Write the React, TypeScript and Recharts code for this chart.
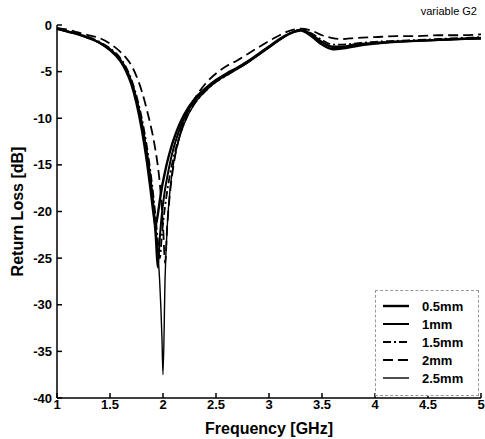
import React from 'react';
import { LineChart, Line, XAxis, YAxis } from 'recharts';

const freq = [1.0, 1.1, 1.2, 1.3, 1.4, 1.5, 1.6, 1.65, 1.7, 1.75, 1.8, 1.85, 1.88, 1.91, 1.93, 1.95, 1.97, 1.99, 2.0, 2.02, 2.04, 2.07, 2.1, 2.15, 2.2, 2.3, 2.4, 2.5, 2.6, 2.7, 2.8, 2.9, 3.0, 3.1, 3.2, 3.3, 3.4, 3.5, 3.6, 3.7, 3.8, 4.0, 4.2, 4.4, 4.6, 4.8, 5.0];

const g05 = [-0.4, -0.7, -1.0, -1.4, -1.9, -2.7, -3.9, -4.9, -6.3, -8.4, -11.2, -14.8, -17.4, -20.2, -21.5, -20.4, -18.8, -17.4, -16.8, -15.7, -14.7, -13.4, -12.3, -10.8, -9.6, -7.9, -6.8, -5.9, -5.2, -4.6, -3.9, -3.1, -2.3, -1.5, -0.9, -0.6, -1.2, -2.1, -2.6, -2.5, -2.3, -2.0, -1.8, -1.7, -1.6, -1.5, -1.4];
const g10 = [-0.4, -0.7, -1.0, -1.4, -1.9, -2.6, -3.8, -4.8, -6.1, -8.0, -10.6, -14.0, -16.6, -19.8, -22.6, -26.0, -22.8, -20.2, -19.2, -17.6, -16.3, -14.6, -13.2, -11.4, -10.0, -8.1, -6.9, -6.0, -5.3, -4.7, -4.0, -3.2, -2.4, -1.6, -0.9, -0.5, -1.0, -1.8, -2.3, -2.3, -2.1, -1.9, -1.8, -1.7, -1.6, -1.5, -1.4];
const g15 = [-0.4, -0.7, -0.95, -1.3, -1.8, -2.5, -3.6, -4.5, -5.8, -7.6, -10.0, -13.2, -15.6, -18.4, -20.6, -23.0, -25.0, -22.4, -21.3, -19.4, -17.8, -15.8, -14.2, -12.1, -10.5, -8.4, -7.1, -6.1, -5.4, -4.7, -4.0, -3.2, -2.4, -1.6, -0.9, -0.5, -0.9, -1.6, -2.1, -2.1, -2.0, -1.8, -1.7, -1.6, -1.5, -1.4, -1.3];
const g20 = [-0.3, -0.5, -0.8, -1.1, -1.4, -2.0, -2.9, -3.5, -4.3, -5.5, -7.1, -9.2, -10.6, -12.2, -13.5, -15.0, -17.0, -19.8, -21.5, -25.5, -21.5, -17.6, -15.0, -12.2, -10.3, -7.9, -6.3, -5.2, -4.4, -3.8, -3.1, -2.4, -1.7, -1.1, -0.6, -0.4, -0.6, -1.1, -1.4, -1.5, -1.4, -1.3, -1.2, -1.2, -1.1, -1.1, -1.0];
const g25 = [-0.4, -0.7, -1.0, -1.35, -1.85, -2.55, -3.7, -4.6, -5.9, -7.8, -10.3, -13.6, -16.0, -19.0, -21.4, -24.2, -27.8, -33.5, -37.5, -27.0, -21.6, -17.3, -14.8, -12.3, -10.6, -8.4, -7.1, -6.1, -5.4, -4.7, -4.0, -3.2, -2.4, -1.6, -0.9, -0.5, -1.0, -1.9, -2.4, -2.4, -2.2, -2.0, -1.8, -1.7, -1.6, -1.5, -1.5];

const xTicks = [1, 1.5, 2, 2.5, 3, 3.5, 4, 4.5, 5];
const yTicks = [-40, -35, -30, -25, -20, -15, -10, -5, 0];

const series = [
  { key: 'g05', name: '0.5mm', width: 2.4, dash: undefined },
  { key: 'g10', name: '1mm', width: 2, dash: undefined },
  { key: 'g15', name: '1.5mm', width: 1.8, dash: '8 3 2 3' },
  { key: 'g20', name: '2mm', width: 1.8, dash: '10 5' },
  { key: 'g25', name: '2.5mm', width: 1.4, dash: undefined },
];

const data = freq.map((f, i) => ({ f, g05: g05[i], g10: g10[i], g15: g15[i], g20: g20[i], g25: g25[i] }));

const font = '"Liberation Sans", Arial, sans-serif';
const tickStyle = { fill: '#000', fontSize: 13, fontWeight: 700, fontFamily: font };

// legend sits in the lower-right corner of the plot, like the original
function LegendBox() {
  return (
    <div style={{ position: 'absolute', left: 375, top: 290, width: 104, height: 106, border: '1px dashed #999', background: '#fff', boxSizing: 'border-box', paddingTop: 6 }}>
      {series.map((s) => (
        <div key={s.key} style={{ display: 'flex', alignItems: 'center', height: 18 }}>
          <svg width={44} height={10}>
            <line x1={7} x2={33} y1={5} y2={5} stroke="#000" strokeWidth={s.width} strokeDasharray={s.dash} />
          </svg>
          <span style={{ fontFamily: font, fontSize: 13, fontWeight: 700, color: '#000', marginLeft: 2 }}>{s.name}</span>
        </div>
      ))}
    </div>
  );
}

export default function App() {
  return (
    <div style={{ position: 'fixed', left: 0, top: 0, width: 485, height: 439, background: '#fff' }}>
      <LineChart width={485} height={439} data={data} margin={{ top: 25, right: 4, bottom: 0, left: 0 }}>
        <XAxis
          dataKey="f"
          type="number"
          domain={[1, 5]}
          ticks={xTicks}
          height={41}
          tickSize={-5}
          tickMargin={7}
          axisLine={{ stroke: '#000', strokeWidth: 1.5 }}
          tickLine={{ stroke: '#000', strokeWidth: 1.5 }}
          tick={tickStyle}
          label={{ value: 'Frequency [GHz]', position: 'insideBottom', offset: 5, style: { fill: '#000', fontSize: 16, fontWeight: 700, fontFamily: font } }}
        />
        <XAxis
          xAxisId="top"
          orientation="top"
          dataKey="f"
          type="number"
          domain={[1, 5]}
          ticks={xTicks}
          height={0}
          tickSize={-5}
          tick={false}
          axisLine={{ stroke: '#000', strokeWidth: 1.5 }}
          tickLine={{ stroke: '#000', strokeWidth: 1.5 }}
        />
        <YAxis
          type="number"
          domain={[-40, 0]}
          ticks={yTicks}
          width={57}
          tickSize={-5}
          tickMargin={10}
          axisLine={{ stroke: '#000', strokeWidth: 1.5 }}
          tickLine={{ stroke: '#000', strokeWidth: 1.5 }}
          tick={tickStyle}
          label={{ value: 'Return Loss [dB]', angle: -90, position: 'insideLeft', offset: 17, style: { fill: '#000', fontSize: 16, fontWeight: 700, fontFamily: font, textAnchor: 'middle' } }}
        />
        <YAxis
          yAxisId="right"
          orientation="right"
          type="number"
          domain={[-40, 0]}
          ticks={yTicks}
          width={0}
          tickSize={-5}
          tick={false}
          axisLine={{ stroke: '#000', strokeWidth: 1.5 }}
          tickLine={{ stroke: '#000', strokeWidth: 1.5 }}
        />
        {series.map((s) => (
          <Line
            key={s.key}
            dataKey={s.key}
            name={s.name}
            type="monotone"
            stroke="#000"
            strokeWidth={s.width}
            strokeDasharray={s.dash}
            dot={false}
            isAnimationActive={false}
          />
        ))}
      </LineChart>
      <LegendBox />
      <div style={{ position: 'absolute', right: 8, top: 5, fontFamily: font, fontSize: 11, color: '#000' }}>variable G2</div>
    </div>
  );
}
